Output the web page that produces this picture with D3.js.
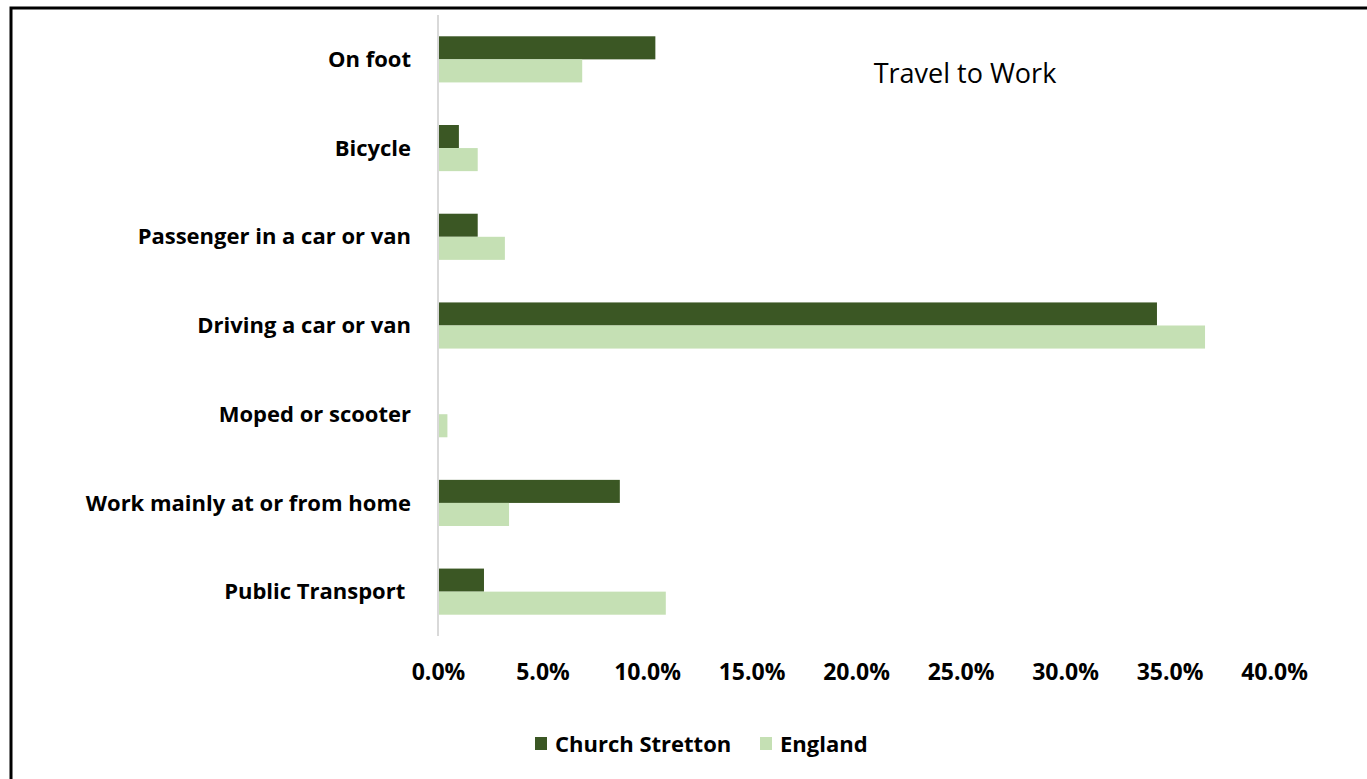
<!DOCTYPE html>
<html>
<head>
<meta charset="utf-8">
<script src="https://cdn.jsdelivr.net/npm/d3@7"></script>
<style>
  body { margin: 0; background: #fff; }
  text { font-family: "Open Sans", sans-serif; fill: #000; }
</style>
</head>
<body>
<div id="chart"></div>
<script>
var categories = ["On foot", "Bicycle", "Passenger in a car or van", "Driving a car or van",
                  "Moped or scooter", "Work mainly at or from home", "Public Transport "];
var seriesNames = ["Church Stretton", "England"];
var churchStretton = [10.4, 1.0, 1.9, 34.4, 0.0, 8.7, 2.2];
var england = [6.9, 1.9, 3.2, 36.7, 0.45, 3.4, 10.9];
var xTicks = [0, 5, 10, 15, 20, 25, 30, 35, 40];
var colors = ["#3b5724", "#c5e0b4"];

var width = 1367, height = 779;

var svg = d3.select("#chart").append("svg")
    .attr("width", width)
    .attr("height", height);

// outer frame (right/bottom run off the picture)
svg.append("rect")
    .attr("x", 11).attr("y", 8)
    .attr("width", width + 20).attr("height", height + 20)
    .attr("fill", "none")
    .attr("stroke", "#000")
    .attr("stroke-width", 3);

var x = d3.scaleLinear().domain([0, 40]).range([438, 1274]);

var y = d3.scaleBand().domain(categories).range([15, 636]).paddingInner(0.48).paddingOuter(0.24);
var y1 = d3.scaleBand().domain(seriesNames).range([0, y.bandwidth()]);

var rows = categories.map(function(c, i) {
    return { cat: c, vals: [churchStretton[i], england[i]] };
});

var g = svg.append("g");
g.selectAll("g.row")
    .data(rows)
    .enter().append("g")
    .attr("class", "row")
    .attr("transform", function(d) { return "translate(0," + y(d.cat) + ")"; })
    .selectAll("rect")
    .data(function(d) { return d.vals.map(function(v, j) { return { v: v, s: seriesNames[j], j: j }; }); })
    .enter().append("rect")
    .attr("x", x(0))
    .attr("y", function(d) { return y1(d.s); })
    .attr("width", function(d) { return x(d.v) - x(0); })
    .attr("height", y1.bandwidth())
    .attr("fill", function(d) { return colors[d.j]; });

// vertical axis line
svg.append("line")
    .attr("x1", x(0)).attr("x2", x(0))
    .attr("y1", 15).attr("y2", 636)
    .attr("stroke", "#d9d9d9")
    .attr("stroke-width", 2);

// category labels
svg.append("g").selectAll("text")
    .data(categories)
    .enter().append("text")
    .attr("x", 411)
    .attr("y", function(d) { return y(d) + y.bandwidth() / 2; })
    .attr("dy", "0.35em")
    .attr("text-anchor", "end")
    .style("white-space", "pre")
    .style("font-weight", "bold")
    .style("font-size", "22px")
    .text(function(d) { return d; });

// x axis tick labels
var xAxis = d3.axisBottom(x)
    .tickValues(xTicks)
    .tickSize(0)
    .tickFormat(function(d) { return d.toFixed(1) + "%"; });

var ax = svg.append("g")
    .attr("transform", "translate(0,660)")
    .call(xAxis);
ax.select(".domain").remove();
ax.selectAll("text")
    .attr("dy", "0.35em")
    .attr("y", 12)
    .style("font-family", "Open Sans, sans-serif")
    .style("font-weight", "bold")
    .style("font-size", "23px")
    .attr("fill", "#000");

// title
svg.append("text")
    .attr("x", 965)
    .attr("y", 83)
    .attr("text-anchor", "middle")
    .style("font-size", "27px")
    .text("Travel to Work");

// legend
var legendX = [535, 760];
var lg = svg.append("g").selectAll("g")
    .data(seriesNames)
    .enter().append("g")
    .attr("transform", function(d, i) { return "translate(" + legendX[i] + ",737)"; });
lg.append("rect")
    .attr("width", 12).attr("height", 13)
    .attr("fill", function(d, i) { return colors[i]; });
lg.append("text")
    .attr("x", 20)
    .attr("y", 7)
    .attr("dy", "0.35em")
    .style("font-weight", "bold")
    .style("font-size", "22px")
    .text(function(d) { return d; });
</script>
</body>
</html>
